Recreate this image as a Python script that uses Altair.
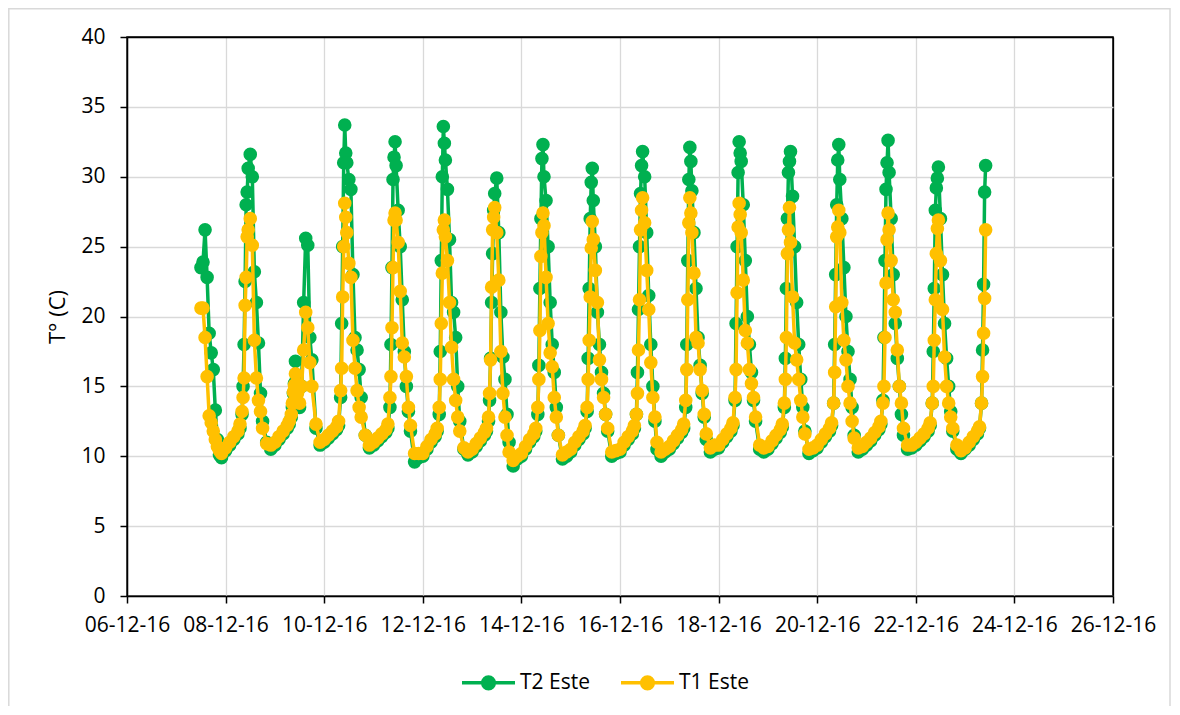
import altair as alt
import pandas as pd
from datetime import datetime, timedelta

SERIES = ["T2 Este", "T1 Este"]
COLORS = ["#00B050", "#FFC000"]
TICK_DAYS = [6, 8, 10, 12, 14, 16, 18, 20, 22, 24, 26]
Y_TICKS = [0, 5, 10, 15, 20, 25, 30, 35, 40]

# sampling hours of each day (first day starts at noon, last day stops at 10:00)
FIRST_HOURS = [12, 13, 14, 15, 16, 17, 18, 19, 20, 21, 22]
DAY_HOURS = [0, 2, 4, 6, 7, 8, 8.5, 9, 9.5, 10, 10.5, 11, 12, 13, 14, 15, 16, 17, 18, 20, 22]

# T2 Este (green) values per day
T2_07 = [23.5, 23.9, 26.2, 22.8, 18.8, 17.4, 16.2, 13.3, 11.2, 10.1, 9.9]
T2_08 = [10.4, 10.8, 11.2, 11.6, 12.0, 13.0, 15.0, 18.0, 22.5, 28.0, 28.9, 30.6, 31.6, 30.0, 23.2, 21.0, 18.1, 14.5, 12.5, 11.0, 10.5]
T2_09 = [10.8, 11.2, 11.6, 12.0, 12.3, 12.8, 13.5, 14.5, 15.2, 16.8, 15.5, 14.8, 13.5, 15.0, 21.0, 25.6, 25.1, 18.5, 16.9, 12.0, 10.8]
T2_10 = [11.0, 11.3, 11.6, 11.9, 12.2, 14.2, 19.5, 25.0, 31.0, 33.7, 31.7, 31.0, 29.8, 29.1, 23.0, 18.5, 17.6, 16.2, 14.2, 11.5, 10.6]
T2_11 = [10.8, 11.1, 11.4, 11.7, 12.0, 13.5, 18.0, 23.5, 29.8, 31.4, 32.5, 30.8, 27.6, 25.0, 21.2, 17.5, 15.0, 13.2, 11.8, 9.6, 9.9]
T2_12 = [10.0, 10.5, 11.0, 11.4, 11.8, 13.0, 17.5, 24.0, 30.0, 33.6, 32.4, 31.2, 29.1, 25.5, 21.0, 20.3, 18.5, 15.0, 12.5, 10.5, 10.1]
T2_13 = [10.3, 10.7, 11.1, 11.5, 11.8, 12.5, 14.0, 17.0, 21.0, 24.5, 27.6, 28.8, 29.9, 26.0, 20.3, 17.1, 15.5, 13.0, 11.0, 9.3, 9.8]
T2_14 = [10.0, 10.5, 11.0, 11.4, 11.8, 13.0, 16.5, 22.0, 27.0, 31.3, 32.3, 30.0, 28.3, 25.0, 21.0, 18.0, 16.0, 13.5, 11.5, 9.8, 10.0]
T2_15 = [10.3, 10.8, 11.2, 11.6, 12.0, 13.2, 17.0, 22.0, 27.0, 29.6, 30.6, 28.3, 25.0, 20.3, 18.0, 16.0, 14.5, 13.0, 11.8, 10.0, 10.2]
T2_16 = [10.3, 10.8, 11.2, 11.6, 12.0, 13.0, 16.0, 20.5, 25.0, 28.8, 30.8, 31.8, 30.0, 26.0, 21.5, 18.0, 15.0, 12.5, 10.5, 10.0, 10.3]
T2_17 = [10.5, 10.9, 11.3, 11.7, 12.0, 13.5, 18.0, 24.0, 29.8, 32.1, 31.1, 29.0, 26.0, 22.0, 18.5, 16.5, 14.5, 12.8, 11.2, 10.3, 10.5]
T2_18 = [10.6, 11.0, 11.4, 11.8, 12.2, 14.0, 19.5, 25.0, 30.3, 32.5, 31.7, 31.1, 28.0, 24.0, 20.0, 18.0, 16.0, 14.0, 12.5, 10.5, 10.3]
T2_19 = [10.5, 10.9, 11.3, 11.7, 12.1, 13.5, 17.0, 22.0, 27.0, 30.3, 31.1, 31.8, 28.6, 25.0, 21.0, 18.0, 15.5, 13.5, 11.8, 10.2, 10.4]
T2_20 = [10.6, 11.0, 11.4, 11.8, 12.2, 13.8, 18.0, 23.0, 28.0, 31.2, 32.3, 29.8, 27.0, 23.5, 20.0, 17.5, 15.5, 13.5, 11.5, 10.3, 10.5]
T2_21 = [10.8, 11.1, 11.5, 11.9, 12.3, 14.0, 18.5, 24.0, 29.1, 31.0, 32.6, 30.3, 27.0, 23.0, 19.5, 17.0, 15.0, 13.0, 11.5, 10.5, 10.6]
T2_22 = [10.8, 11.1, 11.4, 11.8, 12.2, 13.8, 17.5, 22.0, 27.6, 29.2, 29.9, 30.7, 27.0, 23.0, 19.5, 17.0, 15.0, 13.2, 11.8, 10.5, 10.2]
T2_23 = [10.5, 10.8, 11.2, 11.6, 12.0, 13.8, 17.6, 22.3, 28.9, 30.8]

# T1 Este (yellow) values per day
T1_07 = [20.6, 20.6, 18.5, 15.7, 12.9, 12.4, 11.8, 11.2, 10.7, 10.4, 10.2]
T1_08 = [10.6, 11.0, 11.4, 11.8, 12.3, 13.2, 14.2, 15.6, 20.8, 22.8, 25.7, 26.2, 27.0, 25.1, 18.3, 15.6, 14.0, 13.2, 12.0, 10.9, 10.8]
T1_09 = [11.0, 11.4, 11.8, 12.2, 12.5, 13.0, 13.8, 14.6, 15.1, 15.9, 15.2, 14.5, 13.8, 15.0, 17.6, 20.3, 19.2, 16.7, 15.0, 12.3, 11.0]
T1_10 = [11.2, 11.5, 11.8, 12.1, 12.5, 14.7, 16.3, 21.4, 25.0, 28.1, 27.1, 26.0, 23.8, 22.8, 18.3, 16.3, 14.7, 13.5, 12.8, 11.5, 10.8]
T1_11 = [11.0, 11.3, 11.6, 11.9, 12.3, 14.2, 15.7, 19.2, 23.5, 26.9, 27.4, 26.9, 25.3, 21.8, 18.1, 17.1, 15.7, 13.5, 12.2, 10.2, 10.2]
T1_12 = [10.2, 10.7, 11.2, 11.6, 12.0, 13.5, 15.5, 19.5, 23.1, 26.2, 26.9, 25.7, 24.0, 21.0, 17.8, 15.5, 14.0, 12.8, 11.8, 10.6, 10.3]
T1_13 = [10.5, 10.9, 11.3, 11.7, 12.0, 12.8, 14.5, 16.9, 22.1, 26.2, 27.1, 27.8, 26.0, 22.6, 17.5, 14.5, 12.8, 11.5, 10.3, 9.7, 10.0]
T1_14 = [10.2, 10.7, 11.2, 11.6, 12.0, 13.5, 15.5, 19.0, 24.3, 26.0, 27.4, 26.5, 22.8, 19.5, 17.4, 16.4, 14.2, 12.8, 11.5, 10.1, 10.3]
T1_15 = [10.5, 11.0, 11.4, 11.8, 12.2, 13.5, 15.5, 18.3, 21.4, 24.9, 26.8, 25.5, 23.3, 21.0, 16.9, 15.5, 14.2, 13.0, 12.0, 10.3, 10.4]
T1_16 = [10.5, 11.0, 11.4, 11.8, 12.2, 13.0, 14.5, 17.6, 21.2, 26.2, 27.6, 28.5, 26.7, 23.3, 20.5, 16.7, 14.2, 12.8, 11.0, 10.3, 10.5]
T1_17 = [10.7, 11.1, 11.5, 11.9, 12.3, 14.0, 16.2, 21.2, 26.7, 28.5, 27.4, 26.0, 23.1, 18.5, 18.1, 16.2, 14.7, 13.0, 11.6, 10.6, 10.8]
T1_18 = [10.8, 11.2, 11.6, 12.0, 12.4, 14.2, 16.2, 21.7, 26.4, 28.1, 27.3, 26.0, 22.6, 19.0, 18.1, 16.2, 15.2, 14.2, 12.8, 10.8, 10.6]
T1_19 = [10.7, 11.1, 11.5, 11.9, 12.3, 13.8, 15.5, 18.5, 24.5, 26.2, 27.8, 25.3, 21.4, 18.1, 16.9, 15.5, 14.0, 12.8, 11.6, 10.5, 10.6]
T1_20 = [10.8, 11.2, 11.6, 12.0, 12.4, 13.8, 16.0, 20.7, 25.7, 26.4, 27.6, 26.0, 21.0, 18.3, 16.9, 15.0, 13.8, 12.5, 11.3, 10.6, 10.7]
T1_21 = [11.0, 11.3, 11.7, 12.1, 12.5, 13.8, 15.0, 18.5, 22.4, 25.5, 27.4, 26.2, 24.0, 21.2, 20.3, 17.6, 15.0, 13.8, 12.0, 10.8, 10.8]
T1_22 = [11.0, 11.3, 11.6, 12.0, 12.4, 13.8, 15.0, 18.3, 21.2, 24.5, 26.3, 26.9, 24.0, 20.5, 17.1, 15.0, 13.8, 12.8, 12.0, 10.8, 10.4]
T1_23 = [10.6, 11.0, 11.4, 11.8, 12.1, 13.8, 15.7, 18.8, 21.3, 26.2]

DAYS = list(range(7, 24))
T2_DAYS = [T2_07, T2_08, T2_09, T2_10, T2_11, T2_12, T2_13, T2_14, T2_15,
           T2_16, T2_17, T2_18, T2_19, T2_20, T2_21, T2_22, T2_23]
T1_DAYS = [T1_07, T1_08, T1_09, T1_10, T1_11, T1_12, T1_13, T1_14, T1_15,
           T1_16, T1_17, T1_18, T1_19, T1_20, T1_21, T1_22, T1_23]


def stamp(day, hour):
    return (datetime(2016, 12, day) + timedelta(hours=hour)).strftime("%Y-%m-%dT%H:%M:%SZ")


rows = []
for name, per_day in ((SERIES[0], T2_DAYS), (SERIES[1], T1_DAYS)):
    for day, vals in zip(DAYS, per_day):
        hours = FIRST_HOURS if day == DAYS[0] else DAY_HOURS
        for h, v in zip(hours, vals):
            rows.append({"t": stamp(day, h), "v": v, "s": name})
df = pd.DataFrame(rows)

FONT = "Open Sans"
SYMBOL = "M-1,0L1,0M0.22,0A0.22,0.22,0,1,1,-0.22,0A0.22,0.22,0,1,1,0.22,0Z"
LAST_X_MS = 1482710400000  # 26-12-16 00:00 UTC, right edge of the plot


def make_legend():
    return alt.Legend(
        orient="none", legendX=333, legendY=617, direction="horizontal", title=None,
        symbolType=SYMBOL, symbolSize=2809, symbolStrokeWidth=3.5, symbolOpacity=1,
        labelFont=FONT, labelFontSize=21, labelColor="black", labelOffset=3,
        columnPadding=24, padding=0,
    )


x_enc = alt.X(
    "t:T",
    scale=alt.Scale(type="utc", domain=[alt.DateTime(year=2016, month=12, date=6, utc=True),
                                        alt.DateTime(year=2016, month=12, date=26, utc=True)]),
    axis=alt.Axis(values=[alt.DateTime(year=2016, month=12, date=d, utc=True) for d in TICK_DAYS],
                  labelExpr="utcFormat(datum.value, '%d-%m-%y')", title=None, tickSize=7,
                  labelPadding=11, labelFlush=False, labelOverlap=False,
                  gridColor=alt.condition(f"datum.value >= {LAST_X_MS}",
                                          alt.value("black"), alt.value("#D9D9D9"))),
)
y_enc = alt.Y(
    "v:Q", scale=alt.Scale(domain=[0, 40]),
    axis=alt.Axis(values=Y_TICKS, title="T° (C)", tickSize=7, labelPadding=15, titlePadding=11,
                  titleFontSize=22,
                  gridColor=alt.condition("datum.value >= 40",
                                          alt.value("black"), alt.value("#D9D9D9"))),
)
stroke_enc = alt.Stroke("s:N", scale=alt.Scale(domain=SERIES, range=COLORS), legend=make_legend())
fill_enc = alt.Fill("s:N", scale=alt.Scale(domain=SERIES, range=COLORS), legend=make_legend())

base = alt.Chart(df)
layers = []
for name in SERIES:
    sub = base.transform_filter(alt.datum.s == name)
    layers.append(sub.mark_line(strokeWidth=3.5).encode(x=x_enc, y=y_enc, stroke=stroke_enc))
    layers.append(sub.mark_circle(size=185, opacity=1, strokeWidth=0).encode(
        x=x_enc, y=y_enc, fill=fill_enc, stroke=stroke_enc))

# light grey chart-area border (its bottom edge lies below the page)
frame = alt.Chart(pd.DataFrame({"k": [0]})).mark_rect(
    fillOpacity=0, stroke="#D9D9D9", strokeWidth=1.5
).encode(x=alt.value(-118.2), x2=alt.value(1043), y=alt.value(-28.2), y2=alt.value(720))

chart = alt.layer(frame, *layers).properties(
    width=986, height=559,
    autosize=alt.AutoSizeParams(type="none"),
    padding={"left": 119, "top": 29, "right": 59, "bottom": 110},
).configure_view(stroke="black", strokeWidth=1.5).configure_axis(
    domainColor="black", domainWidth=1.5, tickColor="black", tickWidth=1.5,
    gridWidth=1.3, labelFont=FONT, labelFontSize=21,
    labelColor="black", titleFont=FONT, titleFontSize=21, titleFontWeight="normal",
    titleColor="black",
)

chart.save("out.html", embed_options={"renderer": "svg", "actions": False})
